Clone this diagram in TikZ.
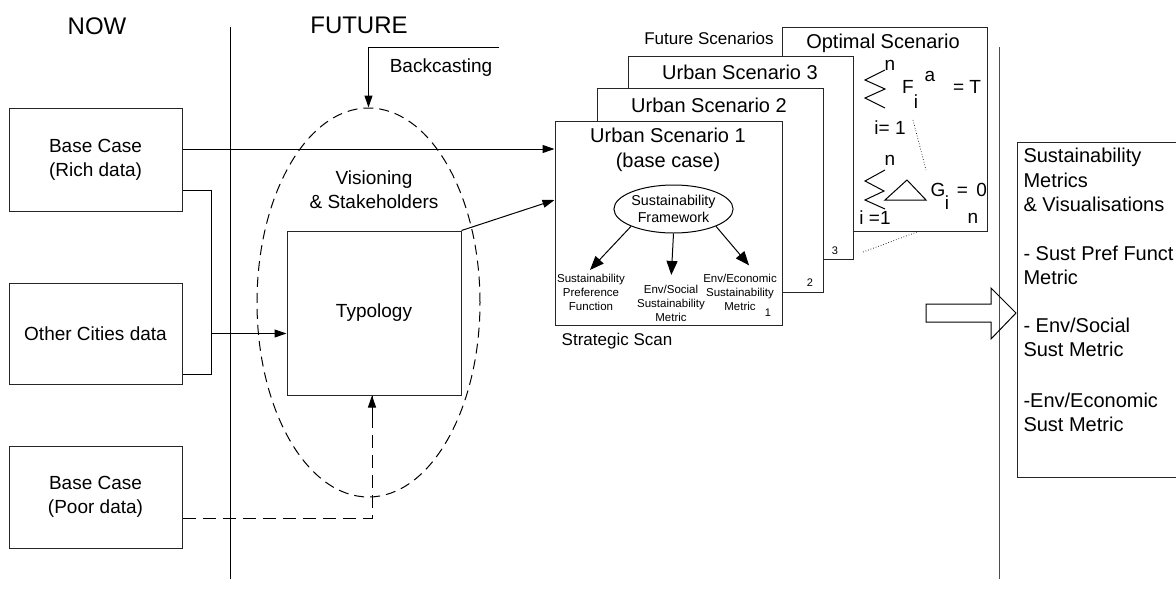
\documentclass[tikz,border=0pt]{standalone}
\usepackage{fontspec}
\setmainfont{Liberation Sans}
\usetikzlibrary{calc}
\usetikzlibrary{arrows.meta,shapes.geometric}

\tikzset{
  box/.style={draw=black!85, line width=1pt, fill=white},
  lbl/.style={font=\fontsize{19}{24}\selectfont, align=center},
  ttl/.style={font=\fontsize{20}{24}\selectfont, align=center, inner sep=0pt},
  small/.style={font=\fontsize{11.5}{14}\selectfont, align=center},
  num/.style={font=\fontsize{11}{13}\selectfont, inner sep=0pt},
  mth/.style={font=\fontsize{19}{22}\selectfont, inner sep=0pt},
  arr/.style={-{Triangle[length=12pt,width=8pt]}},
  bigarr/.style={-{Triangle[length=14pt,width=11pt]}},
}

\begin{document}
\begin{tikzpicture}[x=1pt,y=-1pt,line width=1pt]
\useasboundingbox (0,0) rectangle (1176,592);

\node[lbl, font=\fontsize{24}{28}\selectfont] (now) at (97,26) {NOW};
\node[lbl, font=\fontsize{24}{28}\selectfont] (fut) at (359,25) {FUTURE};
\draw (230,27) -- (230,579);
\draw[black!70] (999,47) -- (999,579);

\node[box, lbl, minimum width=173pt, minimum height=103pt] (rich) at (95.5,159.5) {Base Case\\(Rich data)};
\node[box, lbl, minimum width=173pt, minimum height=101pt] (oth) at (95.5,333.5) {Other Cities data};
\node[box, lbl, minimum width=173pt, minimum height=102pt] (poor) at (95.5,497) {Base Case\\(Poor data)};

\node[draw, ellipse, dash pattern=on 10pt off 6pt, minimum width=223pt, minimum height=389pt] (vis) at (368.5,302.5) {};
\node[lbl] (visio) at (374,190) {Visioning\\\& Stakeholders};
\node[box, lbl, minimum width=174pt, minimum height=164pt] (typ) at (374,313) {Typology};

\coordinate (bc) at (499,47);
\draw[arr] (bc) -| (vis.north);
\node[lbl] (bclbl) at (441,68) {Backcasting};

\node[box, minimum width=205pt, minimum height=204pt] (opt) at (884.5,129) {};
\node[box, minimum width=225pt, minimum height=203pt] (us3) at (740.5,157.5) {};
\node[box, minimum width=226pt, minimum height=204pt] (us2) at (710,190) {};
\node[box, minimum width=227pt, minimum height=204pt] (us1) at (668.5,223) {};

\node[ttl, font=\fontsize{17}{20}\selectfont] (fsc) at (709,38) {Future Scenarios};
\node[ttl] (optl) at (883,43) {Optimal Scenario};
\node[ttl] (us3l) at (740,72) {Urban Scenario 3};
\node[ttl] (us2l) at (709,105) {Urban Scenario 2};
\node[ttl, font=\fontsize{20}{25}\selectfont] (us1l) at (668,149.5) {Urban Scenario 1\\(base case)};
\node[num] (n3) at (835,251) {3};
\node[num] (n2) at (810,283) {2};
\node[num] (n1) at (768,313) {1};
\node[small, font=\fontsize{17}{20}\selectfont] (scan) at (617,341) {Strategic Scan};

\node[draw, ellipse, inner sep=0pt, minimum width=113pt, minimum height=48pt,
  font=\fontsize{14.3}{17}\selectfont, align=center] (sf) at (673.5,209) {Sustainability\\Framework};
\node[small] (spf) at (591,292) {Sustainability\\Preference\\Function};
\node[small] (esm) at (671,303) {Env/Social\\Sustainability\\Metric};
\node[small] (eem) at (740,292) {Env/Economic\\Sustainability\\Metric};
\draw[bigarr] (sf.south west) -- ([xshift=-1pt]spf.north);
\draw[bigarr, shorten >=6pt] (sf.south) -- (esm.north);
\draw[bigarr, shorten >=6pt] (sf.south east) -- ([xshift=13pt]eem.north);

\draw (885,70) -- (865,80) -- (885,89) -- (865,98) -- (885,108);
\node[mth] (s1n) at (890,65) {n};
\node[mth] (s1f) at (908,87) {F};
\node[mth] (s1i) at (916,102) {i};
\node[mth] (s1a) at (930,76) {a};
\node[mth] (s1t) at (967,87) {= T};
\node[mth] (s1b) at (890,128) {i= 1};
\draw[dotted, line width=0.7pt] (913,120) -- (926,170);
\draw (885,170) -- (865,181) -- (884,191) -- (865,200) -- (885,209);
\node[mth] (s2n) at (890,160) {n};
\draw (885,200) -- (907,180) -- (926,200) -- cycle;
\node[mth] (s2g) at (938,190) {G};
\node[mth] (s2i) at (947,203) {i};
\node[mth] (s2z) at (972,190) {= \,0};
\node[mth] (s2b) at (875,218) {i =1};
\node[mth] (s2m) at (973,218) {n};
\draw[dotted, line width=0.7pt] (863,252) -- (917,232);

\draw[arr] ([yshift=10.5pt]rich.east) -- ([yshift=10.5pt]rich.east -| us1.west);
\draw ([yshift=-30.5pt]rich.east) -| ([xshift=29pt]oth.east) |- ([yshift=-40.5pt]oth.east);
\draw[arr] ([xshift=29pt]oth.east) -- (oth.east -| typ.west);
\draw[arr] (typ.north east) -- ([yshift=23pt]us1.west);
\draw[dash pattern=on 13pt off 7pt] ([yshift=-21pt]poor.east) -| ([xshift=-2pt]typ.south);
\draw[arr] ([xshift=-2pt,yshift=-24pt]typ.south) -- ([xshift=-2pt]typ.south);

\draw (926,304) -- (991,304) -- (991,288) -- (1016,313) -- (991,339) -- (991,322) -- (926,322) -- cycle;
\node[box, anchor=north west, minimum width=175pt, minimum height=335pt] (met) at (1017,142) {};
\node[anchor=north west, align=left, inner sep=6pt, font=\fontsize{20}{24.5}\selectfont] (metl) at (met.north west)
  {Sustainability\\Metrics\\\& Visualisations\\[24pt]- Sust Pref Funct\\Metric\\[23pt]- Env/Social\\Sust Metric\\[26pt]-Env/Economic\\Sust Metric};
\end{tikzpicture}
\end{document}
